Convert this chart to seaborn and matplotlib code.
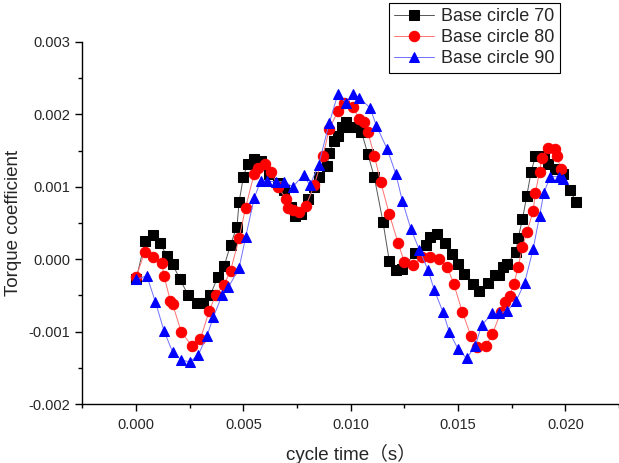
import matplotlib
matplotlib.use("Agg")
import matplotlib.pyplot as plt
from matplotlib.ticker import MultipleLocator, FormatStrFormatter
import pandas as pd
import seaborn as sns

# Base circle 70
x70 = [0.0, 0.00042, 0.0008, 0.0011, 0.00144, 0.0017, 0.00205, 0.00243, 0.00284, 0.0031,
       0.00345, 0.0038, 0.0041, 0.0044, 0.0047, 0.0048, 0.005, 0.0052, 0.0055, 0.0058,
       0.0062, 0.0066, 0.0069, 0.0072, 0.0074, 0.0077, 0.008, 0.0083, 0.0085, 0.0089,
       0.009, 0.0092, 0.0094, 0.0096, 0.0098, 0.01, 0.0103, 0.0105, 0.0108, 0.0111,
       0.0115, 0.0118, 0.0121, 0.0124, 0.013, 0.0135, 0.0137, 0.014, 0.0144, 0.0147,
       0.015, 0.0153, 0.0157, 0.016, 0.0164, 0.0167, 0.0169, 0.0171, 0.0173, 0.0177,
       0.0178, 0.018, 0.0182, 0.0184, 0.0186, 0.019, 0.0192, 0.0195, 0.0199, 0.0202, 0.0205]
y70 = [-0.00028, 0.00025, 0.00034, 0.00023, 0.00004, -0.00007, -0.00028, -0.0005, -0.0006, -0.0006,
       -0.0005, -0.00025, -0.0001, 0.0002, 0.00045, 0.00079, 0.00114, 0.00132, 0.00139, 0.00135,
       0.00118, 0.00105, 0.00096, 0.00072, 0.00059, 0.00062, 0.00083, 0.001, 0.00113, 0.00128,
       0.00147, 0.00163, 0.0017, 0.00182, 0.00189, 0.00182, 0.00182, 0.00176, 0.00145, 0.00113,
       0.00052, -0.00003, -0.00015, -0.00014, 0.00009, 0.0002, 0.0003, 0.00035, 0.00023, 0.00007,
       -0.00006, -0.0002, -0.00034, -0.00044, -0.00033, -0.00022, -0.00022, -0.00011, -0.00006, 0.0001,
       0.00029, 0.00055, 0.00087, 0.0012, 0.00142, 0.00142, 0.00132, 0.00124, 0.00118, 0.00096, 0.00079]

# Base circle 80
x80 = [0.0, 0.0004, 0.0008, 0.0012, 0.0013, 0.0016, 0.0017, 0.0021, 0.0026, 0.003,
       0.0034, 0.0037, 0.0041, 0.0044, 0.0048, 0.0051, 0.0055, 0.0057, 0.006, 0.0063,
       0.0066, 0.007, 0.0071, 0.0073, 0.0076, 0.0079, 0.0083, 0.0087, 0.009, 0.0094,
       0.0097, 0.0101, 0.0104, 0.0106, 0.0108, 0.0111, 0.0114, 0.0118, 0.0122, 0.0125,
       0.0129, 0.0133, 0.0137, 0.0141, 0.0145, 0.0148, 0.0152, 0.0156, 0.0159, 0.0163,
       0.0166, 0.017, 0.0172, 0.0174, 0.0176, 0.0178, 0.018, 0.0182, 0.0185, 0.0186,
       0.0188, 0.0189, 0.0192, 0.0195, 0.0196, 0.0198]
y80 = [-0.00025, 0.0001, 0.00003, -0.00005, -0.00023, -0.00058, -0.00062, -0.001, -0.0012, -0.0011,
       -0.00072, -0.0005, -0.00035, -0.00016, 0.00029, 0.00071, 0.00118, 0.00126, 0.00132, 0.00121,
       0.001, 0.00083, 0.00071, 0.00068, 0.00065, 0.00073, 0.00102, 0.00142, 0.0018, 0.00204,
       0.00216, 0.0021, 0.00194, 0.0019, 0.00175, 0.00143, 0.00106, 0.00062, 0.00023, -0.00004,
       -0.00008, 0.00003, 0.00003, 0.0, -0.00011, -0.00034, -0.00073, -0.00106, -0.00121, -0.0012,
       -0.00103, -0.00073, -0.00059, -0.00051, -0.00034, -0.00011, 0.00017, 0.00037, 0.00066, 0.00092,
       0.0012, 0.0014, 0.00154, 0.00152, 0.00142, 0.00125]

# Base circle 90
x90 = [0.0, 0.0005, 0.0009, 0.0013, 0.0017, 0.0021, 0.0025, 0.0029, 0.0033, 0.0036,
       0.004, 0.0043, 0.0048, 0.0051, 0.0055, 0.0058, 0.0061, 0.0065, 0.0069, 0.0073,
       0.0078, 0.0081, 0.0085, 0.009, 0.0094, 0.0098, 0.0101, 0.0104, 0.0109, 0.0112,
       0.0117, 0.0121, 0.0124, 0.0128, 0.0132, 0.0136, 0.0139, 0.0143, 0.0146, 0.015,
       0.0154, 0.0158, 0.0161, 0.0166, 0.0169, 0.0173, 0.0177, 0.0181, 0.0185, 0.0188,
       0.019, 0.0193, 0.0197, 0.0199]
y90 = [-0.00028, -0.00023, -0.00059, -0.00099, -0.00128, -0.00139, -0.00142, -0.00132, -0.00106, -0.0008,
       -0.0005, -0.00039, -0.00012, 0.0003, 0.00084, 0.00108, 0.00108, 0.00107, 0.00107, 0.001,
       0.00116, 0.00102, 0.0013, 0.00188, 0.00228, 0.00215, 0.00228, 0.00223, 0.00209, 0.00184,
       0.00152, 0.00118, 0.00081, 0.00042, 0.00013, -0.00015, -0.00043, -0.00073, -0.00101, -0.00124,
       -0.00137, -0.0012, -0.00091, -0.00075, -0.00075, -0.00071, -0.00058, -0.00033, 0.00014, 0.0006,
       0.00092, 0.00114, 0.00114, 0.00111]

series = [
    ("Base circle 70", x70, y70, "black", "#555555", "s", 6.5),
    ("Base circle 80", x80, y80, "#ff0000", "#ff7070", "o", 7.5),
    ("Base circle 90", x90, y90, "#0000ff", "#7070ff", "^", 7.5),
]

sns.set_style("ticks")
plt.rcParams["font.family"] = ["Liberation Sans", "Noto Sans CJK SC", "DejaVu Sans"]

fig = plt.figure(figsize=(6.19, 4.63), dpi=100)
ax = fig.add_axes([0.1325, 0.1274, 0.8675, 0.782])

for name, xs, ys, mc, lc, mk, ms in series:
    df = pd.DataFrame({"t": xs, "v": ys})
    sns.lineplot(data=df, x="t", y="v", ax=ax, estimator=None, sort=False,
                 color=lc, linewidth=0.7, marker=mk, markersize=ms,
                 markerfacecolor=mc, markeredgecolor=mc, label=name)

ax.set_xlim(-0.00252, 0.0225)
ax.set_ylim(-0.002, 0.003)
ax.xaxis.set_major_locator(MultipleLocator(0.005))
ax.xaxis.set_minor_locator(MultipleLocator(0.0025))
ax.yaxis.set_major_locator(MultipleLocator(0.001))
ax.yaxis.set_minor_locator(MultipleLocator(0.0005))
ax.xaxis.set_major_formatter(FormatStrFormatter("%.3f"))
ax.yaxis.set_major_formatter(FormatStrFormatter("%.3f"))
ax.tick_params(which="major", direction="out", length=5, width=1, labelsize=10.5, color="black")
ax.tick_params(axis="x", which="major", pad=5)
ax.tick_params(which="minor", direction="out", length=3, width=1, color="black")

for s in ["top", "right"]:
    ax.spines[s].set_visible(False)
for s in ["left", "bottom"]:
    ax.spines[s].set_linewidth(1)
    ax.spines[s].set_color("black")

ax.set_xlabel("cycle time（s）", fontsize=13.5, labelpad=9)
ax.set_ylabel("Torque coefficient", fontsize=13.5, labelpad=5)

leg = ax.legend(loc="upper right", bbox_to_anchor=(0.905, 0.994),
                bbox_transform=fig.transFigure, fontsize=13, frameon=True,
                fancybox=False, framealpha=1, edgecolor="black",
                handlelength=2.2, borderpad=0.3, labelspacing=0.22,
                handletextpad=0.4, borderaxespad=0)
leg.get_frame().set_linewidth(0.8)

fig.savefig("out.png", dpi=100)
